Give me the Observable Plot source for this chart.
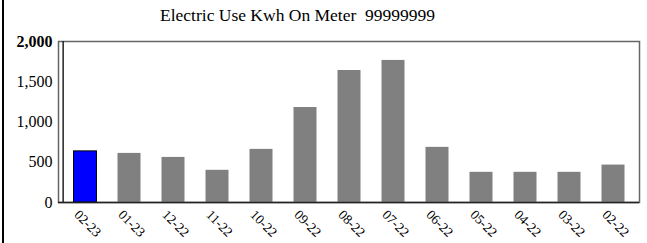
<!DOCTYPE html>
<html>
<head>
<meta charset="utf-8">
<script src="https://cdn.jsdelivr.net/npm/d3@7"></script>
<script src="https://cdn.jsdelivr.net/npm/@observablehq/plot@0.6"></script>
<style>
  html, body { margin: 0; padding: 0; background: #fff; }
  body { width: 647px; height: 243px; position: relative; overflow: hidden; }
  #border { position: absolute; left: 2px; top: 0; width: 2px; height: 243px; background: #000; }
  #chart svg { display: block; }
</style>
</head>
<body style="font-family:'Liberation Serif'">
<div id="border"></div>
<div id="title" style="font-family:'Liberation Serif';height:30px;font-size:17.5px;line-height:30px;padding-left:160px;box-sizing:border-box;color:#000">Electric Use Kwh On Meter&nbsp;&nbsp;99999999</div>
<div id="chart"></div>
<script>
const months = ["02-23","01-23","12-22","11-22","10-22","09-22","08-22","07-22","06-22","05-22","04-22","03-22","02-22"];
const kwh = [635, 610, 560, 400, 660, 1180, 1640, 1765, 685, 375, 375, 375, 465];
const highlighted = ["02-23"];
const yTicks = [0, 500, 1000, 1500, 2000];

const data = months.map((m, i) => ({month: m, kwh: kwh[i], hl: highlighted.includes(m)}));
const serif = "Liberation Serif";

const chart = Plot.plot({
  width: 647,
  height: 213,
  marginTop: 11,
  marginBottom: 41,
  marginLeft: 58,
  marginRight: 8,
  style: {fontFamily: serif, background: "#fff", color: "#000", overflow: "visible"},
  x: {domain: months, padding: 0, label: null},
  y: {domain: [0, 2000], label: null},
  marks: [
    Plot.frame({stroke: "#666", strokeWidth: 1.5}),
    Plot.barY(data.filter(d => !d.hl), {x: "month", y: "kwh", fill: "#808080", insetLeft: 10.5, insetRight: 10.5}),
    Plot.barY(data.filter(d => d.hl), {x: "month", y: "kwh", fill: "#0000ff", stroke: "#000", strokeWidth: 1, insetLeft: 10.5, insetRight: 10.5}),
    Plot.ruleX([0], {x: () => months[0], stroke: "#222", strokeWidth: 1.5, dx: -22.35}),
    Plot.ruleY([0], {stroke: "#222", strokeWidth: 1.5}),
    Plot.axisY(yTicks, {tickSize: 0, tickPadding: 6, tickFormat: d3.format(","), fontSize: 16, anchor: "left"}),
    Plot.axisX({tickSize: 0, tickRotate: 45, tickPadding: 6, fontSize: 13.5, dx: -9, dy: 4})
  ]
});
document.getElementById("chart").appendChild(chart);
chart.querySelectorAll('text').forEach(t => {
  t.style.fontFamily = "'Liberation Serif'";
  if (t.textContent === "2,000") t.setAttribute("font-weight", "bold");
});
chart.querySelectorAll('g').forEach(g => { if (g.getAttribute("font-family")) g.setAttribute("font-family", "Liberation Serif"); });
</script>
</body>
</html>
